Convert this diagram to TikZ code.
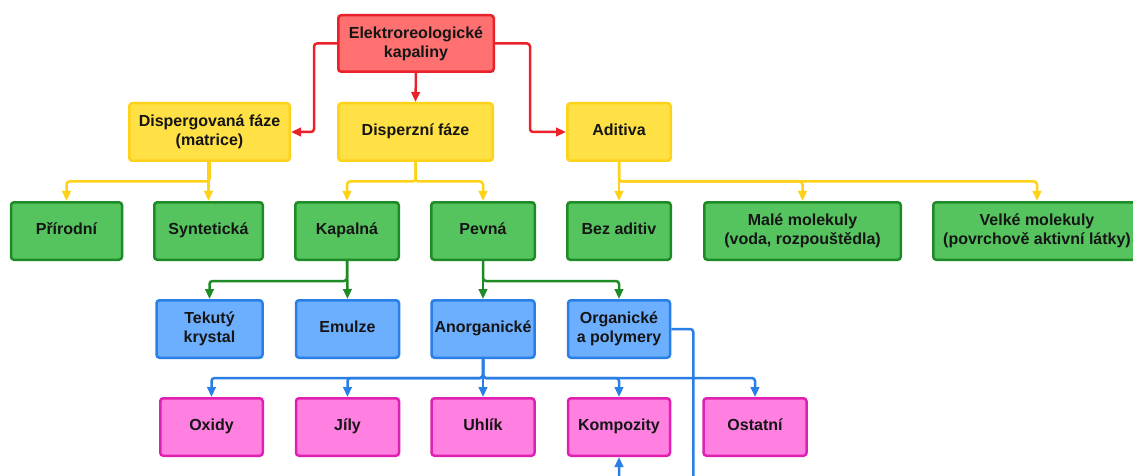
\documentclass[tikz,border=0pt]{standalone}
\usepackage{fontspec}
\setmainfont{Liberation Sans}
\usetikzlibrary{arrows.meta}
\definecolor{rfill}{HTML}{FF7070}
\definecolor{rdraw}{HTML}{E8212B}
\definecolor{yfill}{HTML}{FFE045}
\definecolor{ydraw}{HTML}{FFD21A}
\definecolor{gfill}{HTML}{55C45F}
\definecolor{gdraw}{HTML}{1E8B26}
\definecolor{bfill}{HTML}{6DAFFF}
\definecolor{bdraw}{HTML}{2A7FE6}
\definecolor{pfill}{HTML}{FF80E0}
\definecolor{pdraw}{HTML}{E020B0}
\definecolor{txt}{HTML}{151515}
\tikzset{
  box/.style={rectangle, rounded corners=3pt, line width=2.5pt, align=center,
    inner sep=0pt, minimum height=57.5pt, text=txt,
    font=\fontsize{16}{19}\selectfont\bfseries},
  one/.style={text height=0.9em, text depth=0.18em},
  redbox/.style={box, fill=rfill, draw=rdraw},
  yelbox/.style={box, fill=yfill, draw=ydraw},
  grnbox/.style={box, fill=gfill, draw=gdraw},
  blubox/.style={box, fill=bfill, draw=bdraw},
  pnkbox/.style={box, fill=pfill, draw=pdraw},
  conn/.style={line width=2.5pt, rounded corners=3pt,
    -{Triangle[length=10pt,width=8.5pt]}},
  rconn/.style={conn, draw=rdraw, fill=none},
  yconn/.style={conn, draw=ydraw},
  gconn/.style={conn, draw=gdraw},
  bconn/.style={conn, draw=bdraw},
}
\begin{document}
\begin{tikzpicture}[x=1pt,y=-1pt]
\useasboundingbox (0,0) rectangle (1133,476);
\clip (0,0) rectangle (1133,476);
\fill[white] (0,0) rectangle (1133,476);
% level 1
\node[redbox, minimum width=155.5pt, minimum height=56.5pt] (root) at (416,43.5) {Elektroreologické\\kapaliny};
% level 2
\node[yelbox, minimum width=160.5pt] (disp) at (209.5,132) {Dispergovaná fáze\\(matrice)};
\node[yelbox, one, minimum width=154.5pt] (dfaze) at (415.5,132) {Disperzní fáze};
\node[yelbox, one, minimum width=103.5pt] (adit) at (619,132) {Aditiva};
% level 3
\node[grnbox, one, minimum width=111pt] (prir) at (66.5,231) {Přírodní};
\node[grnbox, one, minimum width=108.5pt] (synt) at (208.5,231) {Syntetická};
\node[grnbox, one, minimum width=103.5pt] (kap) at (347,231) {Kapalná};
\node[grnbox, one, minimum width=103.5pt] (pev) at (483,231) {Pevná};
\node[grnbox, one, minimum width=103.5pt] (bez) at (619,231) {Bez aditiv};
\node[grnbox, minimum width=196.5pt] (male) at (802.5,231) {Malé molekuly\\(voda, rozpouštědla)};
\node[grnbox, minimum width=207.5pt] (velke) at (1037,231) {Velké molekuly\\(povrchově aktivní látky)};
% level 4
\node[blubox, minimum width=106pt] (tek) at (209.5,329) {Tekutý\\krystal};
\node[blubox, one, minimum width=103pt] (emu) at (347.5,329) {Emulze};
\node[blubox, one, minimum width=103pt] (anorg) at (483,329) {Anorganické};
\node[blubox, minimum width=102pt] (org) at (619,329) {Organické\\a polymery};
% level 5
\node[pnkbox, one, minimum width=102.5pt] (oxid) at (211.5,427) {Oxidy};
\node[pnkbox, one, minimum width=103pt] (jily) at (347.5,427) {Jíly};
\node[pnkbox, one, minimum width=103pt] (uhlik) at (483,427) {Uhlík};
\node[pnkbox, one, minimum width=102pt] (komp) at (619,427) {Kompozity};
\node[pnkbox, one, minimum width=103pt] (ost) at (755,427) {Ostatní};
% red connectors
\draw[rconn] (root.west) -- ++(-23,0) |- (disp.east);
\draw[rconn] (root.south) -- (dfaze.north);
\draw[rconn] (root.east) -- ++(35,0) |- (adit.west);
% yellow connectors
\draw[yconn] (disp.south) -- ++(0,19.5) -| (prir.north);
\draw[yconn] (synt.north |- disp.south) -- (synt.north);
\draw[yconn] (dfaze.south) -- ++(0,19.5) -| (kap.north);
\draw[yconn] (dfaze.south) -- ++(0,19.5) -| (pev.north);
\draw[yconn] (adit.south) -- (bez.north);
\draw[yconn] (adit.south) -- ++(0,19.5) -| (male.north);
\draw[yconn] (adit.south) -- ++(0,19.5) -| (velke.north);
% green connectors
\draw[gconn] (kap.south) -- ++(0,20) -| (tek.north);
\draw[gconn] (kap.south) -- (emu.north);
\draw[gconn] (pev.south) -- (anorg.north);
\draw[gconn] (pev.south) -- ++(0,20) -| (org.north);
% blue connectors
\draw[bconn] (anorg.south) -- ++(0,19) -| (oxid.north);
\draw[bconn] (anorg.south) -- ++(0,19) -| (jily.north);
\draw[bconn] (anorg.south) -- (uhlik.north);
\draw[bconn] (anorg.south) -- ++(0,19) -| (komp.north);
\draw[bconn] (anorg.south) -- ++(0,19) -| (ost.north);
\draw[bconn] (org.east) -- ++(22,0) -- ++(0,160) -| (komp.south);
\end{tikzpicture}
\end{document}
